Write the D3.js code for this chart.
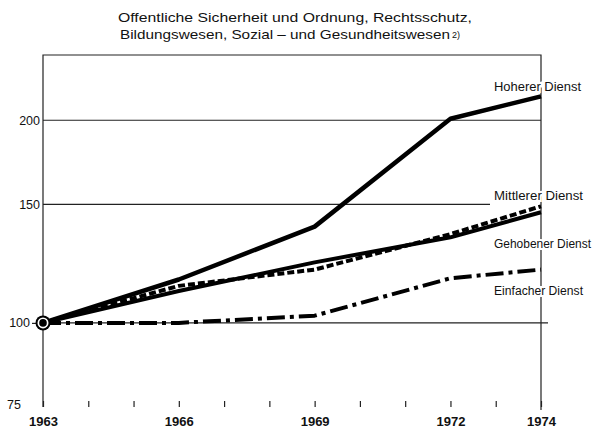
<!DOCTYPE html>
<html>
<head>
<meta charset="utf-8">
<script src="https://cdn.jsdelivr.net/npm/d3@7"></script>
<style>
  body { margin: 0; background: #fff; }
  svg text { font-family: "Liberation Sans", Arial, sans-serif; fill: #111; }
  .domain { display: none; }
</style>
</head>
<body>
<div class="chart"></div>
<script>
// data (index 1963 = 100)
const years = [1963, 1966, 1969, 1972, 1974];
const hoeherer = [100, 116, 139, 201, 217];
const mittlerer = [100, 113.5, 120, 135.5, 149];
const gehobener = [100, 111.5, 123, 134, 146];
const einfacher = [100, 100, 102.5, 116.5, 120];

const yTicks = [75, 100, 150, 200];
const gridValues = [100, 150, 200];
const xLabelYears = [1963, 1966, 1969, 1972, 1974];
const titleLines = [
    'Offentliche Sicherheit und Ordnung, Rechtsschutz,',
    'Bildungswesen, Sozial – und Gesundheitswesen'
];

const series = [
    { name: 'Hoherer Dienst', values: hoeherer, dash: null, width: 4.5 },
    { name: 'Mittlerer Dienst', values: mittlerer, dash: '7,3', width: 4 },
    { name: 'Gehobener Dienst', values: gehobener, dash: null, width: 4 },
    { name: 'Einfacher Dienst', values: einfacher, dash: '18,5,4,5', width: 4 }
];

const margin = { top: 55, left: 43, bottom: 27, right: 55 };
const width = 596 - margin.left - margin.right;
const height = 434 - margin.top - margin.bottom;

const root = d3.select('.chart')
    .append('svg')
    .attr('width', 596)
    .attr('height', 434);

// title
const title = root.append('g').attr('class', 'title');
title.selectAll('text')
    .data(titleLines)
    .enter()
    .append('text')
    .attr('x', (d, i) => i === 0 ? 118 : 120)
    .attr('y', (d, i) => 22 + i * 17)
    .attr('textLength', (d, i) => i === 0 ? 354 : 330)
    .attr('lengthAdjust', 'spacingAndGlyphs')
    .style('font-size', '13.5px')
    .text(d => d);

// footnote mark after the 2nd title line
title.append('text')
    .attr('x', 452)
    .attr('y', 38)
    .style('font-size', '9px')
    .text('2)');

const svg = root.append('g')
    .attr('transform', `translate(${margin.left}, ${margin.top})`);

// scales
const xScale = d3.scaleLinear()
    .domain([1963, 1974])
    .range([0, width]);

const yScale = d3.scaleLog()
    .domain([75, 250])
    .range([height, 0]);

// gridlines
const gridEnd = { 100: width + 7, 150: width - 51, 200: width };
svg.append('g')
    .selectAll('line')
    .data(gridValues)
    .enter()
    .append('line')
    .attr('x1', 0)
    .attr('x2', d => gridEnd[d])
    .attr('y1', d => yScale(d))
    .attr('y2', d => yScale(d))
    .style('stroke', '#222')
    .style('stroke-width', 1.1);

// frame
svg.append('path')
    .attr('d', `M0,${height}V0H${width}V${height + 3}`)
    .style('fill', 'none')
    .style('stroke', '#222')
    .style('stroke-width', 1.2);

// x axis
const xAxis = d3.axisBottom(xScale)
    .tickValues(d3.range(1963, 1975))
    .tickFormat(x => xLabelYears.includes(x) ? x : '')
    .tickSizeInner(-6)
    .tickSizeOuter(0)
    .tickPadding(10);

const xAxisDraw = svg.append('g')
    .attr('class', 'x-axis')
    .attr('transform', `translate(0, ${height})`)
    .call(xAxis);
xAxisDraw.select('.domain').style('display', null).style('stroke', '#222').style('stroke-width', 1.2);
xAxisDraw.selectAll('.tick line').style('stroke', '#222').style('stroke-width', 1.2);
xAxisDraw.selectAll('text')
    .style('font-size', '13px')
    .style('font-weight', 'bold')
    .style('fill', '#111');

// y axis
const yAxis = d3.axisLeft(yScale)
    .tickValues(yTicks)
    .tickFormat(d3.format('d'))
    .tickSize(0)
    .tickPadding(3);

const yAxisDraw = svg.append('g')
    .attr('class', 'y-axis')
    .call(yAxis);
yAxisDraw.selectAll('text')
    .style('font-size', '12.5px')
    .style('fill', '#111')
    .attr('x', d => d === 100 ? -13 : d === 75 ? -22 : -3)
    .attr('dy', d => d === 75 ? '0.15em' : '0.32em');
yAxisDraw.selectAll('.tick')
    .filter(d => d === 100)
    .append('line')
    .attr('x1', -11)
    .attr('x2', 0)
    .style('stroke', '#222')
    .style('stroke-width', 1.2);

// lines
const lineGen = d3.line()
    .x((d, i) => xScale(years[i]))
    .y(d => yScale(d));

const chartGroup = svg.append('g').attr('class', 'line-chart');

chartGroup
    .selectAll('.line-series')
    .data(series)
    .enter()
    .append('path')
    .attr('class', 'line-series')
    .attr('d', d => lineGen(d.values))
    .style('fill', 'none')
    .style('stroke', '#000')
    .style('stroke-width', d => d.width)
    .style('stroke-dasharray', d => d.dash)
    .style('stroke-linejoin', 'round');

// series labels
const labelY = { 'Hoherer Dienst': 91, 'Mittlerer Dienst': 200, 'Gehobener Dienst': 248, 'Einfacher Dienst': 295 };
const labelLen = { 'Hoherer Dienst': 87, 'Mittlerer Dienst': 89, 'Gehobener Dienst': 97, 'Einfacher Dienst': 89 };
root.append('g')
    .selectAll('text')
    .data(series)
    .enter()
    .append('text')
    .attr('x', 494)
    .attr('y', d => labelY[d.name])
    .attr('textLength', d => labelLen[d.name])
    .attr('lengthAdjust', 'spacingAndGlyphs')
    .style('font-size', '12px')
    .style('paint-order', 'stroke')
    .style('stroke', '#fff')
    .style('stroke-width', 4)
    .text(d => d.name);

// start marker
const start = svg.append('g')
    .attr('transform', `translate(${xScale(years[0])}, ${yScale(hoeherer[0])})`);
start.append('circle').attr('r', 7.5).style('fill', '#000');
start.append('circle').attr('r', 5.5).style('fill', '#fff');
start.append('circle').attr('r', 3.8).style('fill', '#000');
</script>
</body>
</html>
